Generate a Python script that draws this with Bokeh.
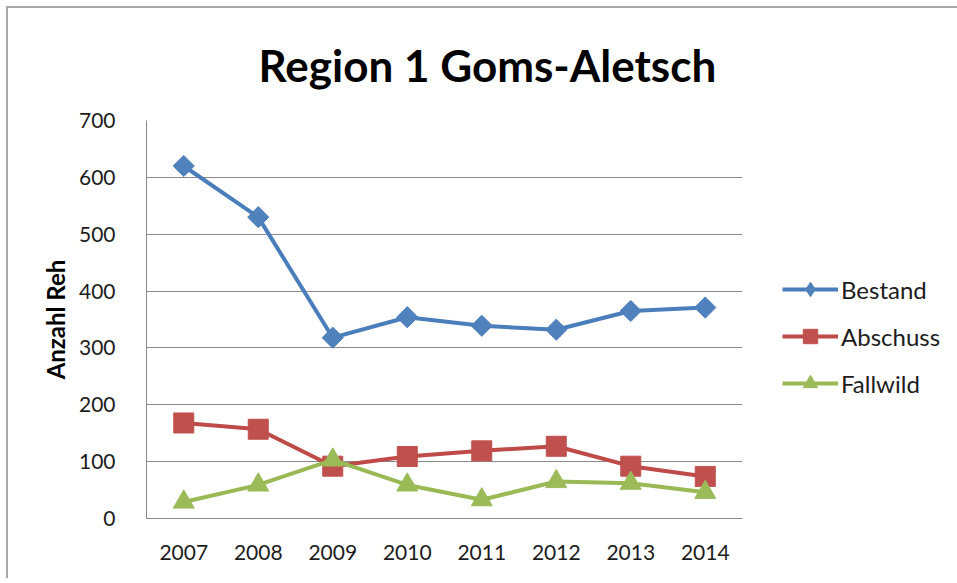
import numpy as np
from bokeh.plotting import figure
from bokeh.models import Legend, LegendItem, FactorRange, Range1d, FixedTicker, Label
from bokeh.embed import file_html
from bokeh.resources import INLINE

years = ["2007", "2008", "2009", "2010", "2011", "2012", "2013", "2014"]
bestand = [620, 530, 318, 354, 339, 332, 365, 371]
abschuss = [168, 157, 92, 109, 119, 127, 92, 74]
fallwild = [29, 59, 103, 59, 33, 65, 62, 46]
y_ticks = [0, 100, 200, 300, 400, 500, 600, 700]

title_text = "Region 1 Goms-Aletsch"
y_label = "Anzahl Reh"
series_names = ["Bestand", "Abschuss", "Fallwild"]

FONT = "Lato"
TXT = "#1c1c1c"
GRID = "#8a8a8a"

p = figure(frame_width=596, frame_height=398, x_range=FactorRange(*years), y_range=Range1d(0, 700),
           output_backend="svg", toolbar_location=None,
           min_border_left=138, min_border_right=210, min_border_top=112, min_border_bottom=60)
p.styles = {"margin-left": "6px", "margin-top": "6px",
            "border-left": "2px solid #a8a8a8", "border-top": "2px solid #a8a8a8"}
p.outline_line_color = None
p.background_fill_color = "white"
p.border_fill_color = "white"

p.add_layout(Label(x=112, y=56, x_units="screen", y_units="screen", text=title_text,
                   text_font=FONT, text_font_style="bold", text_font_size="44px",
                   text_color="#000000", text_align="left", text_baseline="alphabetic"),
             "above")

p.xgrid.grid_line_color = None
p.ygrid.grid_line_color = GRID
p.ygrid.grid_line_width = 1
p.yaxis.ticker = FixedTicker(ticks=y_ticks)
for ax in (p.xaxis, p.yaxis):
    ax.axis_line_color = GRID
    ax.axis_line_width = 1
    ax.major_tick_line_color = None
    ax.minor_tick_line_color = None
    ax.major_label_text_font = FONT
    ax.major_label_text_font_size = "21px"
    ax.major_label_text_color = TXT
p.yaxis.major_label_standoff = 25
p.xaxis.major_label_standoff = 20
p.yaxis.axis_label = y_label
p.yaxis.axis_label_text_font = FONT
p.yaxis.axis_label_text_font_style = "bold"
p.yaxis.axis_label_text_font_size = "24px"
p.yaxis.axis_label_text_color = "#000000"
p.yaxis.axis_label_standoff = 6
p.x_range.range_padding = 0
p.x_range.factor_padding = 0

colors_line = ["#4A7EBB", "#BE4B48", "#98B954"]
colors_mark = ["#4F81BD", "#C0504D", "#9BBB59"]
data = [bestand, abschuss, fallwild]
nan_vals = [np.nan] * len(years)

items = []
for i, (name, vals) in enumerate(zip(series_names, data)):
    ln = p.line(years, vals, line_color=colors_line[i], line_width=4)
    if i == 0:
        mk = p.scatter(years, vals, marker="square", angle=np.pi / 4, size=15,
                       fill_color=colors_mark[i], line_color=colors_mark[i])
        lg = p.scatter(years, nan_vals, marker="diamond", size=15,
                       fill_color=colors_mark[i], line_color=colors_mark[i])
    elif i == 1:
        mk = p.scatter(years, vals, marker="square", size=20,
                       fill_color=colors_mark[i], line_color=colors_mark[i])
        lg = mk
    else:
        mk = p.scatter(years, vals, marker="triangle", size=21,
                       fill_color=colors_mark[i], line_color=colors_mark[i])
        lg = mk
    items.append(LegendItem(label=name, renderers=[ln, lg]))

legend = Legend(items=items, location=(40, 117), border_line_color=None,
                background_fill_alpha=0, padding=0, margin=0, spacing=11,
                glyph_width=56, glyph_height=36, label_height=36, label_standoff=3,
                label_text_font=FONT, label_text_font_size="24px", label_text_color=TXT)
p.add_layout(legend, "right")

open("out.html", "w").write(file_html(p, INLINE))
